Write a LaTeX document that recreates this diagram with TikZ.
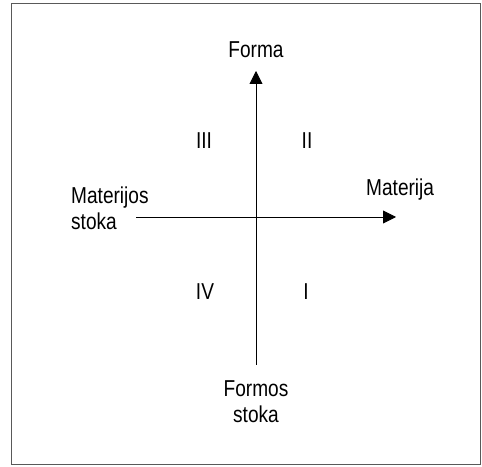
\documentclass[tikz,border=0pt]{standalone}
\usepackage{fontspec}
\setmainfont{Liberation Sans}
\usetikzlibrary{arrows.meta}
\newcommand{\nrw}[1]{\scalebox{0.83}[1]{#1}}
\begin{document}
\begin{tikzpicture}[x=1pt,y=1pt,
  lbl/.style={inner sep=0pt,font=\fontsize{23}{26}\selectfont},
  axis/.style={line width=0.9pt,-{Triangle[length=13pt,width=13pt]}}]
\useasboundingbox (0,0) rectangle (482,466);
\draw[line width=0.9pt,black!65] (11,463) rectangle (480,2);
\coordinate (vb) at (256,101);
\coordinate (vt) at (256,395);
\coordinate (hl) at (136,249);
\coordinate (hr) at (396,249);
\draw[axis] (vb) -- (vt);
\draw[axis] (hl) -- (hr);
\node[lbl,anchor=base] (forma) at (256,408) {\nrw{Forma}};
\node[lbl,anchor=base west] (mst) at (71,262) {\nrw{\begin{tabular}[t]{@{}l@{}}Materijos\\stoka\end{tabular}}};
\node[lbl,anchor=base west] (mat) at (366,270) {\nrw{Materija}};
\node[lbl,anchor=base] (fst) at (256,69) {\nrw{\begin{tabular}[t]{@{}c@{}}Formos\\stoka\end{tabular}}};
\node[lbl,anchor=base] (q3) at (204,317) {\nrw{III}};
\node[lbl,anchor=base] (q2) at (307,317) {\nrw{II}};
\node[lbl,anchor=base] (q4) at (205,166) {\nrw{IV}};
\node[lbl,anchor=base] (q1) at (306,166) {\nrw{I}};
\end{tikzpicture}
\end{document}
